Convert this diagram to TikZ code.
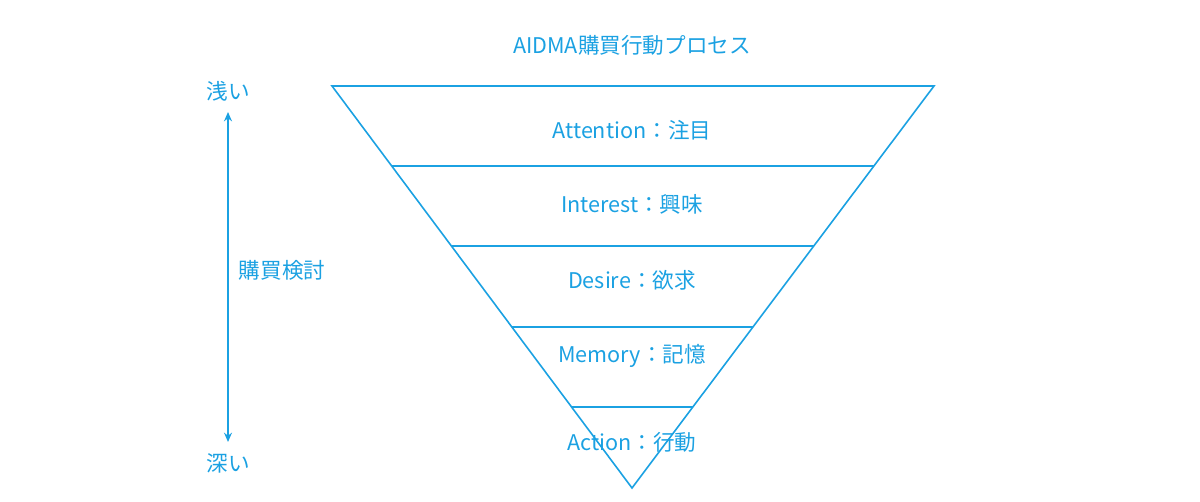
\documentclass[tikz,border=0pt]{standalone}
\usepackage{fontspec}
\setmainfont{Noto Sans CJK JP}
\usepackage{tikz}
\usetikzlibrary{arrows.meta}
\definecolor{aidmablue}{RGB}{27,161,226}
\tikzset{
  lbl/.style={text=aidmablue,inner sep=0.75pt,font=\fontsize{16.2}{18}\selectfont},
  edge/.style={draw=aidmablue,line width=1.2pt},
}
\begin{document}
\begin{tikzpicture}[x=0.75pt,y=0.75pt,yscale=-1,xscale=1]
\useasboundingbox (0,0) rectangle (1200,502);
% Funnel corners
\coordinate (tl) at (332,86);
\coordinate (tr) at (934,86);
\coordinate (apex) at (632,488);
% Triangle
\draw [edge]  (tl) -- (tr) -- (apex) -- cycle ;
% Stage dividers
\foreach \yy/\nm in {166/a,246/b,327/c,407/d} {
  \coordinate (\nm l) at ({332+(\yy-86)*0.7463},\yy);
  \coordinate (\nm r) at ({934-(\yy-86)*0.7512},\yy);
  \draw [edge]  (\nm l) -- (\nm r) ;
}
% Text Node
\node [lbl] (title) at (632,45) {AIDMA購買行動プロセス};
% Text Node
\node [lbl] (attention) at (632,130) {Attention：注目};
% Text Node
\node [lbl] (interest) at (632,204) {Interest：興味};
% Text Node
\node [lbl] (desire) at (632,280) {Desire：欲求};
% Text Node
\node [lbl] (memory) at (632,356) {Memory：記憶};
% Text Node
\node [lbl] (action) at (632,442) {Action：行動};
% Text Node
\node [lbl] (shallow) at (228,91) {浅い};
% Text Node
\node [lbl] (deep) at (228,463) {深い};
% Text Node
\node [lbl] (consider) at (282,270) {購買検討};
% Depth arrow
\coordinate (up) at (228,112);
\coordinate (down) at (228,442);
\draw [edge,{Stealth[length=7pt,width=6pt]}-{Stealth[length=7pt,width=6pt]}]  (up) -- (down) ;
\end{tikzpicture}
\end{document}
